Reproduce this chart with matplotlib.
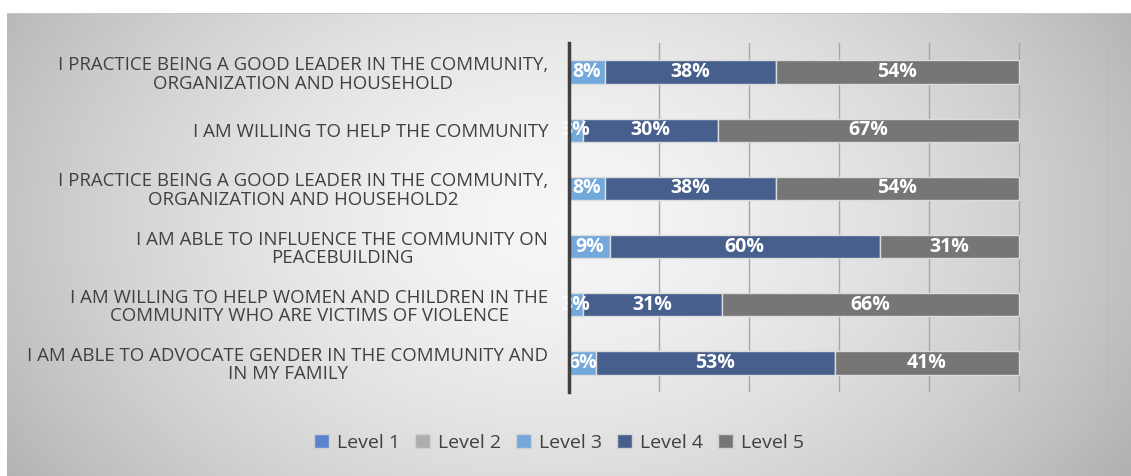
import numpy as np
import matplotlib.pyplot as plt
from matplotlib.patches import Patch

categories = [
    "I PRACTICE BEING A GOOD LEADER IN THE COMMUNITY,\nORGANIZATION AND HOUSEHOLD",
    "I AM WILLING TO HELP THE COMMUNITY",
    "I PRACTICE BEING A GOOD LEADER IN THE COMMUNITY,\nORGANIZATION AND HOUSEHOLD2",
    "I AM ABLE TO INFLUENCE THE COMMUNITY ON\nPEACEBUILDING",
    "I AM WILLING TO HELP WOMEN AND CHILDREN IN THE\nCOMMUNITY WHO ARE VICTIMS OF VIOLENCE",
    "I AM ABLE TO ADVOCATE GENDER IN THE COMMUNITY AND\nIN MY FAMILY",
]
level_names = ["Level 1", "Level 2", "Level 3", "Level 4", "Level 5"]
level1 = [0, 0, 0, 0, 0, 0]
level2 = [0, 0, 0, 0, 0, 0]
level3 = [0.08, 0.03, 0.08, 0.09, 0.03, 0.06]
level4 = [0.38, 0.30, 0.38, 0.60, 0.31, 0.53]
level5 = [0.54, 0.67, 0.54, 0.31, 0.66, 0.41]
levels = [level1, level2, level3, level4, level5]
colors = ["#5b84cc", "#adadad", "#72a8db", "#465f8c", "#767676"]

plt.rcParams['font.family'] = ['Open Sans', 'DejaVu Sans']

fig = plt.figure(figsize=(11.31, 4.76), dpi=100)
fig.patch.set_facecolor("white")

# gradient background box
bg = fig.add_axes([7 / 1131, 0, 1 - 7 / 1131, 463 / 476])
yy, xx = np.mgrid[-1:1:200j, -1:1:400j]
r = np.sqrt(((xx + 0.02) * 0.95) ** 2 + ((yy + 0.1) * 0.55) ** 2)
shade = 0.965 - 0.22 * np.clip(r, 0, 1.3) ** 1.6
bg.imshow(np.dstack([shade] * 3), aspect="auto", extent=[0, 1, 0, 1])
bg.set_axis_off()
bg.plot([0, 1], [1, 1], color="#c8c8c8", lw=1.5, transform=bg.transAxes)

ax = fig.add_axes([569 / 1131, 1 - 392 / 476, 540 / 1131, 349 / 476])
ax.set_facecolor("none")
y = np.arange(len(categories))
left = np.zeros(len(categories))
for name, vals, c in zip(level_names, levels, colors):
    vals = np.array(vals)
    ax.barh(y, vals, left=left, height=0.4, color=c, edgecolor="#dcdcdc",
            linewidth=1, label=name, zorder=3)
    for yi, (l, v) in enumerate(zip(left, vals)):
        if v > 0:
            ax.text(l + v / 2, yi, f"{v * 100:.0f}%", ha="center", va="center",
                    color="white", fontsize=14, fontweight="bold", zorder=4)
    left = left + vals

ax.set_xlim(0, 1.2)
ax.set_ylim(len(categories) - 0.5, -0.5)
ax.set_xticks(np.arange(0, 1.21, 0.2))
ax.set_xticklabels([])
ax.grid(axis="x", color="#a6a6a6", lw=1, zorder=0)
ax.set_yticks(y)
ax.set_yticklabels(categories, fontsize=13.4, color="#404040",
                   ha="right", linespacing=1.03)
for t in ax.get_yticklabels():
    t.set_multialignment("center")
ax.tick_params(axis="y", length=0, pad=15)
ax.tick_params(axis="x", length=0)
for s in ["top", "right", "bottom"]:
    ax.spines[s].set_visible(False)
ax.spines["left"].set_color("#404040")
ax.spines["left"].set_linewidth(2.5)
ax.spines["left"].set_zorder(5)

handles = [Patch(facecolor=c, edgecolor="#d0d0d0", label=n)
           for n, c in zip(level_names, colors)]
fig.legend(handles=handles, loc="center", ncol=5, frameon=False,
           bbox_to_anchor=(559 / 1131, 1 - 443 / 476), fontsize=14,
           handlelength=0.75, handleheight=0.75, handletextpad=0.4,
           columnspacing=0.8, labelcolor="#404040")

fig.savefig("out.png", dpi=100)
